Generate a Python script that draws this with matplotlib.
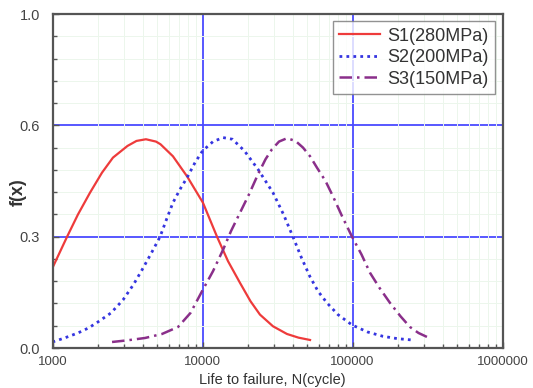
import matplotlib
matplotlib.use('Agg')
import matplotlib.pyplot as plt
import numpy as np
from matplotlib.ticker import FixedLocator, NullFormatter

plt.rcParams['font.family'] = ['Liberation Sans', 'DejaVu Sans']

# values: log10(N) and f (f in axis units, 0..1)
s1_logn = [3.0, 3.097, 3.17, 3.25, 3.33, 3.403, 3.5, 3.56, 3.623, 3.69, 3.72, 3.803, 3.897,
           4.003, 4.097, 4.17, 4.25, 4.32, 4.383, 4.47, 4.563, 4.64, 4.717]
s1_f = [0.24, 0.333, 0.40, 0.465, 0.525, 0.57, 0.605, 0.62, 0.625, 0.618, 0.61, 0.574, 0.514,
        0.435, 0.333, 0.26, 0.195, 0.14, 0.10, 0.065, 0.042, 0.031, 0.024]

s2_logn = [3.0, 3.08, 3.17, 3.24, 3.303, 3.39, 3.47, 3.54, 3.597, 3.66, 3.717, 3.76, 3.803,
           3.85, 3.897, 3.95, 4.0, 4.07, 4.137, 4.2, 4.28, 4.37, 4.47, 4.54, 4.603, 4.66,
           4.717, 4.77, 4.83, 4.903, 4.997, 5.1, 5.203, 5.3, 5.397]
s2_f = [0.018, 0.03, 0.045, 0.06, 0.078, 0.105, 0.144, 0.19, 0.234, 0.285, 0.333, 0.385, 0.435,
        0.475, 0.51, 0.555, 0.59, 0.618, 0.63, 0.625, 0.59, 0.535, 0.465, 0.40, 0.333, 0.27,
        0.213, 0.17, 0.135, 0.10, 0.069, 0.048, 0.035, 0.028, 0.024]

s3_logn = [3.397, 3.5, 3.617, 3.73, 3.837, 3.92, 3.997, 4.07, 4.137, 4.19, 4.25, 4.31, 4.37,
           4.42, 4.463, 4.51, 4.563, 4.62, 4.67, 4.717, 4.763, 4.82, 4.87, 4.93, 4.997, 5.06,
           5.117, 5.18, 5.25, 5.32, 5.383, 5.44, 5.497]
s3_f = [0.018, 0.023, 0.03, 0.042, 0.063, 0.105, 0.17, 0.23, 0.294, 0.35, 0.405, 0.46, 0.52,
        0.565, 0.595, 0.618, 0.628, 0.62, 0.60, 0.574, 0.54, 0.50, 0.454, 0.395, 0.333, 0.28,
        0.225, 0.18, 0.135, 0.095, 0.063, 0.045, 0.033]

labels = ['S1(280MPa)', 'S2(200MPa)', 'S3(150MPa)']
ytick_pos = [0, 1/3, 2/3, 1]
ytick_lab = ['0.0', '0.3', '0.6', '1.0']
xtick_pos = [1e3, 1e4, 1e5, 1e6]
xtick_lab = ['1000', '10000', '100000', '1000000']

fig = plt.figure(figsize=(5.33, 3.88), dpi=100)
ax = fig.add_axes([52.5/533, 40/388, 450/533, 334/388])

ax.plot(10**np.array(s1_logn), s1_f, color='#ee3b3b', lw=1.6, ls='-', label=labels[0])
ax.plot(10**np.array(s2_logn), s2_f, color='#3535e0', lw=2.0, ls=(0, (1, 1.5)), label=labels[1])
ax.plot(10**np.array(s3_logn), s3_f, color='#8a2f8a', lw=1.8, ls=(0, (5, 2, 1, 2)), label=labels[2])

ax.set_xscale('log')
ax.set_xlim(1e3, 1e6)
ax.set_ylim(0, 1)

ax.xaxis.set_major_locator(FixedLocator(xtick_pos))
ax.set_xticklabels(xtick_lab)
minor_x = [m * 10**d for d in range(3, 6) for m in range(2, 10)]
ax.xaxis.set_minor_locator(FixedLocator(minor_x))
ax.xaxis.set_minor_formatter(NullFormatter())

ax.yaxis.set_major_locator(FixedLocator(ytick_pos))
ax.set_yticklabels(ytick_lab)
ax.yaxis.set_minor_locator(FixedLocator(list(np.arange(1, 15) / 15)))

# faint minor grid, blue major grid
ax.grid(which='minor', color='#ecf6ec', lw=0.7)
for v in [1e4, 1e5]:
    ax.axvline(v, color='#4a4aff', lw=1.3, zorder=1)
for v in [1/3, 2/3]:
    ax.axhline(v, color='#4a4aff', lw=1.3, zorder=1)

ax.tick_params(which='both', direction='in', colors='#555555', labelcolor='#444444',
               labelsize=9.5)
ax.tick_params(which='major', length=4, width=1)
ax.tick_params(which='minor', length=3, width=1)
ax.tick_params(axis='x', pad=6)
ax.tick_params(axis='y', pad=9, labelsize=10.5)
for s in ax.spines.values():
    s.set_color('#555555')
    s.set_linewidth(1.6)

fig.text(18/533, (388-192)/388, 'f(x)', fontsize=13, fontweight='bold', color='#333333',
         rotation=90, ha='center', va='center')
fig.text(272/533, 1/388, 'Life to failure, N(cycle)', fontsize=10.5, color='#333333',
         ha='center', va='bottom')

leg = ax.legend(loc='upper right', fontsize=13, frameon=True, fancybox=False,
                edgecolor='#777777', handlelength=2.3, labelspacing=0.25,
                borderaxespad=0.4, borderpad=0.35, handletextpad=0.4)
leg.get_frame().set_linewidth(1.0)
for t in leg.get_texts():
    t.set_color('#333333')

fig.savefig('out.png', dpi=100)
